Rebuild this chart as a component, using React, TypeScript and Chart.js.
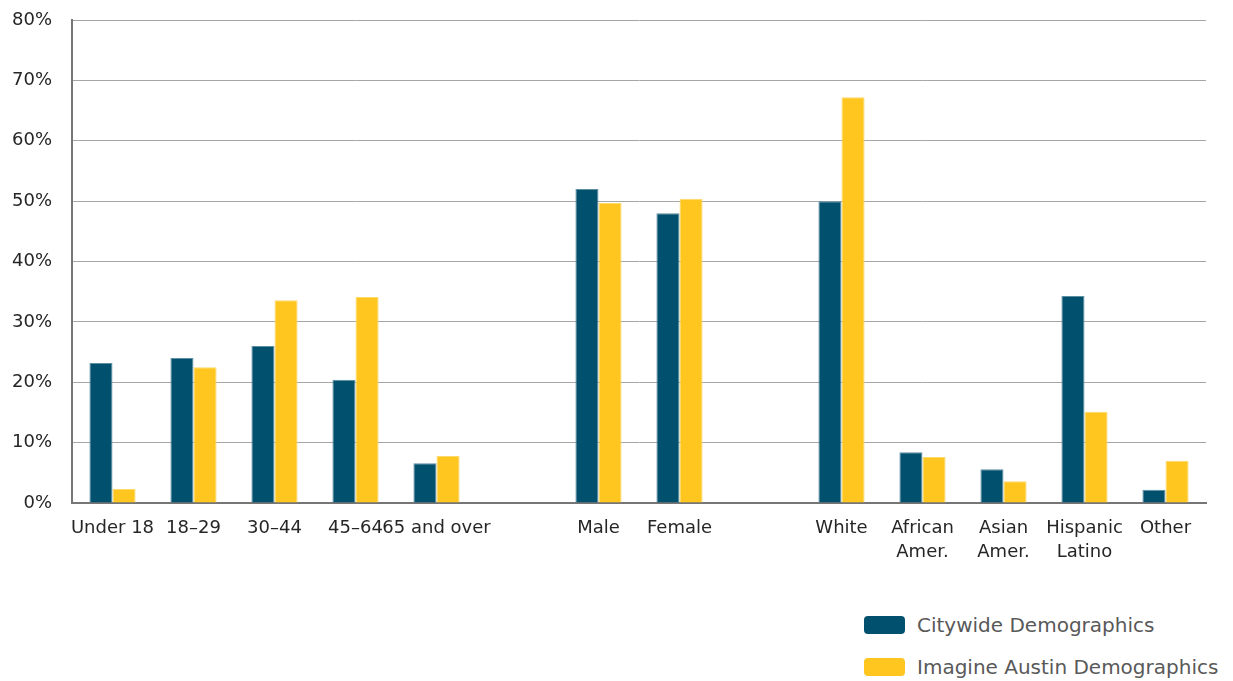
import React, { useEffect, useRef } from "react";
import { Chart, registerables } from "chart.js";

Chart.register(...registerables);

const categories: (string | string[])[] = [
  "Under 18",
  "18–29",
  "30–44",
  "45–64",
  "65 and over",
  "",
  "Male",
  "Female",
  "",
  "White",
  ["African", "Amer."],
  ["Asian", "Amer."],
  ["Hispanic", "Latino"],
  "Other",
];

const citywide: (number | null)[] = [23.2, 24.0, 26.0, 20.4, 6.6, null, 52.0, 48.0, null, 50.0, 8.4, 5.6, 34.3, 2.2];
const imagineAustin: (number | null)[] = [2.3, 22.5, 33.6, 34.1, 7.8, null, 49.7, 50.4, null, 67.2, 7.6, 3.6, 15.1, 7.0];

const seriesNames = ["Citywide Demographics", "Imagine Austin Demographics"];
const seriesColors = ["#00506E", "#FEC61F"];
const seriesBorders = ["#5F8EA3", "#FDD96A"];

const yTicks = [0, 10, 20, 30, 40, 50, 60, 70, 80];

const FONT = "'DejaVu Sans', 'Noto Sans', sans-serif";

export default function App() {
  const ref = useRef<HTMLCanvasElement | null>(null);

  useEffect(() => {
    if (!ref.current) return;
    const chart = new Chart(ref.current, {
      type: "bar",
      data: {
        labels: categories,
        datasets: [
          {
            label: seriesNames[0],
            data: citywide,
            backgroundColor: seriesColors[0],
            borderColor: seriesBorders[0],
            borderWidth: 1,
          },
          {
            label: seriesNames[1],
            data: imagineAustin,
            backgroundColor: seriesColors[1],
            borderColor: seriesBorders[1],
            borderWidth: 1,
          },
        ],
      },
      options: {
        animation: false,
        responsive: false,
        maintainAspectRatio: false,
        layout: { padding: { top: 20, right: 27, left: 0, bottom: 0 } },
        plugins: {
          legend: { display: false },
          tooltip: { enabled: false },
        },
        datasets: {
          bar: { categoryPercentage: 0.57, barPercentage: 1.0 },
        },
        scales: {
          x: {
            grid: { display: false, drawTicks: false },
            border: { display: true, color: "#767676", width: 2 },
            ticks: {
              autoSkip: false,
              maxRotation: 0,
              minRotation: 0,
              padding: 14,
              color: "#262626",
              font: { family: FONT, size: 18, lineHeight: 1.3 },
            },
            afterFit: (scale: any) => {
              scale.height = 97;
              scale.paddingLeft = 0;
              scale.paddingRight = 0;
            },
          },
          y: {
            min: 0,
            max: 80,
            afterBuildTicks: (scale: any) => {
              scale.ticks = yTicks.map((v) => ({ value: v }));
            },
            grid: { color: "#A6A6A6", lineWidth: 1, drawTicks: false },
            border: { display: true, color: "#767676", width: 2 },
            ticks: {
              padding: 20,
              color: "#262626",
              font: { family: FONT, size: 18 },
              callback: (v: any) => `${v}%`,
            },
            afterFit: (scale: any) => {
              scale.width = 72;
              scale.paddingTop = 0;
              scale.paddingBottom = 0;
            },
          },
        },
      },
    });
    return () => chart.destroy();
  }, []);

  const legendItem = (i: number, top: number) => (
    <div
      key={i}
      style={{
        position: "absolute",
        left: 864,
        top,
        height: 20,
        display: "flex",
        alignItems: "center",
        whiteSpace: "nowrap",
      }}
    >
      <span
        style={{
          display: "inline-block",
          width: 41,
          height: 18,
          borderRadius: 4,
          background: seriesColors[i],
          marginRight: 12,
        }}
      />
      <span style={{ fontFamily: FONT, fontSize: 20, color: "#595959" }}>{seriesNames[i]}</span>
    </div>
  );

  return (
    <div
      style={{
        position: "fixed",
        left: 0,
        top: 0,
        width: 1233,
        height: 681,
        background: "#ffffff",
        overflow: "hidden",
      }}
    >
      <canvas ref={ref} width={1233} height={600} style={{ display: "block" }} />
      {legendItem(0, 615)}
      {legendItem(1, 657)}
    </div>
  );
}
